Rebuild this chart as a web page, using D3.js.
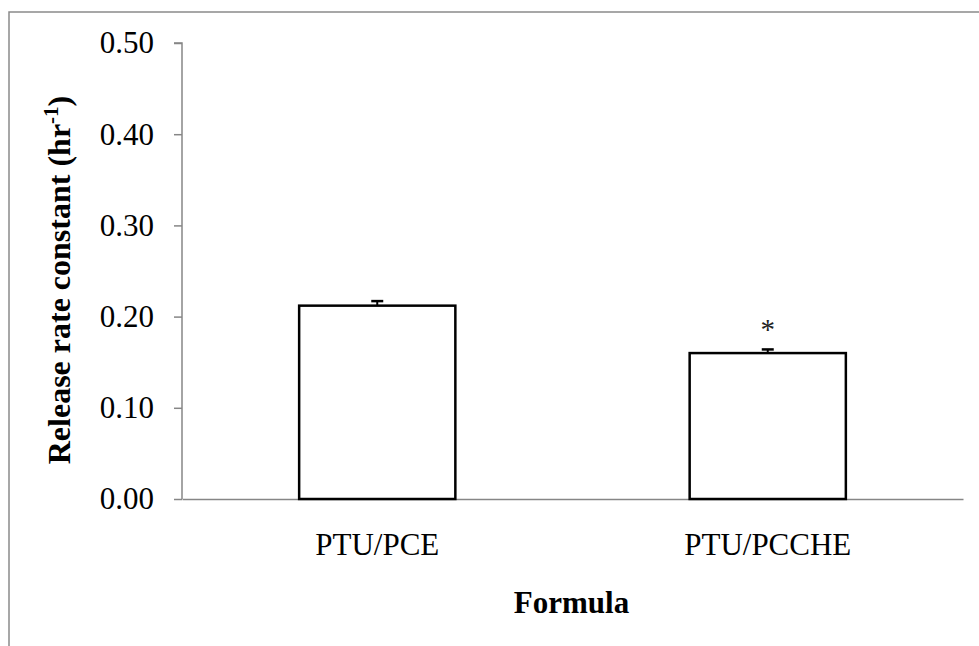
<!DOCTYPE html>
<html>
<head>
<meta charset="utf-8">
<script src="https://cdn.jsdelivr.net/npm/d3@7"></script>
<style>
  body { margin: 0; background: #fff; }
  svg { display: block; font-family: 'Liberation Serif', 'Times New Roman', serif; }
</style>
</head>
<body>
<svg id="chart" width="979" height="646"></svg>
<script>
// data
var categories = ['PTU/PCE', 'PTU/PCCHE'];
var rateValues = [0.212, 0.160];
var rateErrors = [0.005, 0.004];
var significance = ['', '*'];
var yTicks = [0, 0.1, 0.2, 0.3, 0.4, 0.5];

var svg = d3.select('#chart');
var margin = {left: 182, right: 16, top: 43, bottom: 147};
var width = 979, height = 646;

// outer frame (only left and top edges are in view)
svg.append('path')
    .attr('d', 'M9,650 L9,12 L985,12')
    .attr('fill', 'none')
    .attr('stroke', '#8a8a8a')
    .attr('stroke-width', 1.5);

var x = d3.scaleBand()
    .domain(categories)
    .range([margin.left, width - margin.right])
    .padding(0);

var y = d3.scaleLinear()
    .domain([0, 0.5])
    .range([height - margin.bottom, margin.top]);

var barWidth = x.bandwidth() * 0.4;

// y axis
var yAxis = svg.append('g')
    .attr('transform', 'translate(' + margin.left + ',0)')
    .call(d3.axisLeft(y).tickValues(yTicks).tickSize(8).tickPadding(20)
        .tickFormat(d3.format('.2f')));
yAxis.selectAll('line, path').attr('stroke', '#868686').attr('stroke-width', 1.5);
yAxis.select('.domain').attr('d', 'M-8,' + y(0.5) + 'H0V' + y(0));
yAxis.selectAll('text')
    .attr('font-family', 'Liberation Serif')
    .attr('font-size', 31)
    .attr('fill', '#000');

// x axis
var xAxis = svg.append('g')
    .attr('transform', 'translate(0,' + y(0) + ')')
    .call(d3.axisBottom(x).tickSize(0).tickPadding(0));
xAxis.select('.domain').attr('stroke', '#868686').attr('stroke-width', 1.5);
xAxis.selectAll('text')
    .attr('font-family', 'Liberation Serif')
    .attr('font-size', 31)
    .attr('fill', '#000')
    .attr('y', 56)
    .attr('dy', 0);

// bars
svg.append('g')
    .selectAll('rect')
    .data(categories)
    .enter().append('rect')
    .attr('x', function(d) { return x(d) + (x.bandwidth() - barWidth) / 2; })
    .attr('y', function(d, i) { return y(rateValues[i]); })
    .attr('width', barWidth)
    .attr('height', function(d, i) { return y(0) - y(rateValues[i]); })
    .attr('fill', '#fff')
    .attr('stroke', '#000')
    .attr('stroke-width', 2.5);

// error bars (upper only)
var errs = svg.append('g').selectAll('g')
    .data(categories)
    .enter().append('g');
errs.append('line')
    .attr('x1', function(d) { return x(d) + x.bandwidth() / 2; })
    .attr('x2', function(d) { return x(d) + x.bandwidth() / 2; })
    .attr('y1', function(d, i) { return y(rateValues[i]); })
    .attr('y2', function(d, i) { return y(rateValues[i] + rateErrors[i]); })
    .attr('stroke', '#000')
    .attr('stroke-width', 2);
errs.append('line')
    .attr('x1', function(d) { return x(d) + x.bandwidth() / 2 - 6; })
    .attr('x2', function(d) { return x(d) + x.bandwidth() / 2 + 6; })
    .attr('y1', function(d, i) { return y(rateValues[i] + rateErrors[i]); })
    .attr('y2', function(d, i) { return y(rateValues[i] + rateErrors[i]); })
    .attr('stroke', '#000')
    .attr('stroke-width', 2.5);

// significance markers
svg.append('g').selectAll('text')
    .data(categories)
    .enter().append('text')
    .attr('x', function(d) { return x(d) + x.bandwidth() / 2; })
    .attr('y', function(d, i) { return y(rateValues[i] + rateErrors[i]) - 10; })
    .attr('text-anchor', 'middle')
    .attr('font-size', 29)
    .attr('fill', '#222')
    .text(function(d, i) { return significance[i]; });

// axis titles
svg.append('text')
    .attr('x', (margin.left + width - margin.right) / 2 - 1)
    .attr('y', 613)
    .attr('text-anchor', 'middle')
    .attr('font-size', 31)
    .attr('font-weight', 'bold')
    .text('Formula');

var yTitle = svg.append('text')
    .attr('transform', 'translate(70,280) rotate(-90)')
    .attr('text-anchor', 'middle')
    .attr('font-size', 32)
    .attr('font-weight', 'bold');
yTitle.append('tspan').text('Release rate constant (hr');
yTitle.append('tspan').attr('font-size', 21).attr('dy', -12).text('-1');
yTitle.append('tspan').attr('dy', 12).text(')');
</script>
</body>
</html>
